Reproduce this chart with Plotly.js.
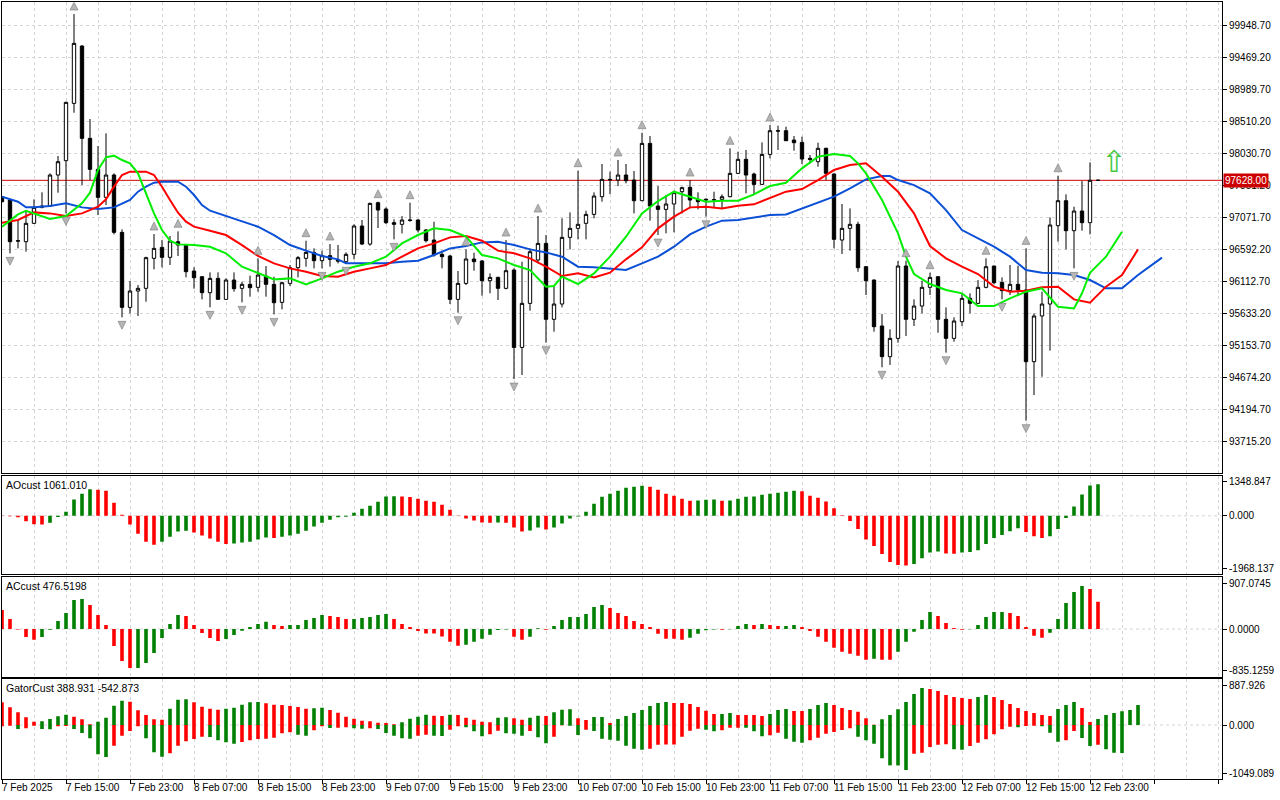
<!DOCTYPE html>
<html><head><meta charset="utf-8">
<script src="https://cdn.plot.ly/plotly-3.0.1.min.js"></script>
<style>html,body{margin:0;padding:0;background:#fff;}#chart{width:1280px;height:800px;}</style>
</head><body><div id="chart"></div>
<script>
// ---------- DATA ----------
const timeLabels = ["7 Feb 2025","7 Feb 15:00","7 Feb 23:00","8 Feb 07:00","8 Feb 15:00","8 Feb 23:00",
  "9 Feb 07:00","9 Feb 15:00","9 Feb 23:00","10 Feb 07:00","10 Feb 15:00","10 Feb 23:00",
  "11 Feb 07:00","11 Feb 15:00","11 Feb 23:00","12 Feb 07:00","12 Feb 15:00","12 Feb 23:00"];
const barsPerLabel = 8;

const open = [97383,97333,96724,96709,96984,97223,97243,97707,97922,98780,
99638,98256,97792,97373,97707,96849,95726,95971,96011,96460,
96624,96475,96709,96659,96270,96185,95946,96160,95846,96135,
96011,96071,96026,96195,96071,95801,96085,96320,96460,96549,
96425,96500,96435,96410,96520,96944,96674,97293,97198,96994,
96969,97034,97034,96884,96734,96520,96495,95846,96085,96450,
96420,96125,96175,96011,96285,95127,95786,96435,96684,95547,
95776,96774,96909,96984,97118,97383,97642,97632,97707,97632,
97323,98181,97243,97193,97273,97458,97523,97343,97333,97333,
97343,97383,97732,97942,97722,97567,98016,98371,98371,98231,
98196,97957,97907,98107,97722,96734,96909,96969,96335,96135,
95447,94988,95262,96345,95547,95746,96026,96185,95547,95262,
95512,95861,95786,96026,96345,96100,95976,96071,95986,94913,
95597,95776,96949,97323,96874,97168,96994,97628];
const high = [97393,97343,97034,97183,97343,97448,97732,97992,98805,100117,
99653,98546,98141,98331,97732,96894,96120,96060,96485,96824,
96734,96794,96864,96669,96325,96195,96250,96250,96160,96250,
96110,96200,96460,96345,96185,96110,96360,96495,96724,96609,
96575,96674,96659,96549,96969,97034,97293,97308,97223,97044,
97093,97293,97044,96899,97009,96575,96510,96270,96594,96544,
96435,96235,96185,96734,96310,96410,96609,97093,96809,96036,
97059,97148,97772,97173,97448,97872,97757,97932,97872,97767,
98341,98291,97542,97408,97473,97533,97632,97448,97358,97458,
97418,98107,98057,98082,97742,98196,98456,98446,98431,98291,
98281,98007,98191,98117,97732,97273,97208,97009,96345,96145,
95627,95397,96420,96425,95846,96125,96245,96195,95726,95577,
95926,95936,96135,96460,96350,96175,96360,96350,96609,95636,
95961,97073,97697,97418,97233,97617,97897,97640];
const low = [97298,96535,96609,96560,96974,97208,97233,97443,97133,98640,
97558,97632,97108,97258,96819,95577,95636,95597,95811,96295,
96325,96360,96495,96175,96006,95846,95726,95846,95846,95961,
95801,95886,95961,95886,95621,95696,96046,96175,96335,96310,
96310,96335,96385,96385,96445,96659,96649,96914,96974,96744,
96834,97009,96849,96699,96485,96310,95776,95646,96060,96275,
95901,95936,95836,95996,94653,94713,95676,96385,95197,95362,
95726,96594,96744,96744,97059,97308,97423,97542,97582,97133,
97318,97024,96809,96834,96849,97133,97208,97193,97083,97223,
97208,97373,97722,97433,97408,97557,97957,98082,98221,98072,
97872,97882,97832,97632,96609,96525,96575,96260,95911,95362,
94829,94864,95197,95297,95447,95636,95911,95347,95048,95212,
95447,95636,95776,96011,96075,95846,95911,95896,94030,94414,
94688,95078,96709,96594,96310,96874,96819,97620];
const close = [97308,96709,96719,96984,97223,97243,97707,97907,98795,99678,
98256,97792,97373,97707,96849,95726,95971,96011,96470,96609,
96475,96719,96659,96260,96170,95946,96160,95846,96135,96006,
96071,96021,96210,96071,95796,96095,96320,96470,96549,96425,
96500,96445,96420,96520,96944,96674,97283,97183,96994,96969,
97034,97029,96884,96724,96510,96485,95846,96085,96450,96410,
96125,96175,96011,96275,95127,95786,96559,96684,95547,95776,
96774,96909,96969,97118,97393,97642,97637,97707,97622,97323,
98181,97243,97193,97273,97443,97518,97333,97308,97343,97338,
97383,97732,97942,97707,97567,98016,98371,98366,98221,98191,
97947,97942,98107,97732,96744,96909,96969,96320,96125,95437,
94988,95262,96345,95547,95746,96026,96175,95547,95262,95522,
95861,95786,96026,96335,96095,95976,96071,95986,94913,95597,
95776,96959,97323,96874,97168,96994,97628,97628];
const currentPrice = 97628.00;

// Alligator (bar index, value)
const jawX = [0,2,3,4,6,8,10,12,14,16,17,18,19,20,22,23,24,25,26,28,30,32,34,36,38,40,42,43,46,48,50,52,54,56,58,60,62,64,66,68,70,72,74,76,78,80,82,84,86,88,90,92,94,96,98,100,102,104,106,108,110,111,112,114,116,118,120,122,124,126,128,130,132,134,136,138,140,142,144,145];
const jawY = [97383,97308,97223,97223,97243,97283,97223,97198,97223,97333,97458,97533,97592,97607,97607,97533,97408,97258,97173,97093,97024,96934,96809,96659,96575,96495,96445,96385,96385,96385,96410,96425,96510,96609,96644,96699,96709,96659,96594,96549,96485,96335,96325,96310,96285,96385,96485,96634,96819,96934,97024,97034,97074,97108,97118,97208,97298,97383,97508,97642,97692,97692,97632,97557,97433,97183,96884,96759,96634,96485,96285,96245,96235,96210,96135,96011,96011,96210,96385,96470];
const teethX = [0,2,4,6,8,10,12,13,14,15,16,18,19,20,21,22,23,24,26,28,30,32,34,36,38,40,42,44,46,48,50,52,54,56,58,60,62,64,66,68,70,72,74,76,78,80,82,84,86,88,90,92,94,96,98,100,102,104,106,108,110,112,114,116,118,120,122,124,126,128,130,132,134,136,138,140,142];
const teethY = [96994,97034,97148,97133,97093,97133,97233,97343,97533,97707,97757,97757,97707,97533,97333,97143,97009,96934,96874,96809,96659,96495,96385,96310,96260,96195,96185,96260,96310,96360,96485,96609,96684,96774,96794,96724,96575,96535,96460,96335,96195,96235,96175,96245,96445,96624,96909,97084,97223,97233,97208,97248,97268,97358,97458,97498,97632,97782,97857,97882,97682,97458,97133,96644,96460,96335,96225,96036,95961,95976,96026,96036,95846,95796,96036,96210,96594];
const lipsX = [0,2,3,4,6,8,10,11,12,13,14,15,16,17,18,19,20,21,22,24,26,28,30,32,34,36,38,40,42,44,46,48,50,52,54,56,58,60,62,64,66,68,69,70,72,74,76,78,80,82,84,86,88,90,92,94,96,98,100,102,104,106,107,108,110,112,113,114,116,118,120,122,124,126,128,130,132,134,135,136,138,140];
const lipsY = [96934,97118,97173,97133,97049,97093,97283,97443,97782,97972,97997,97932,97882,97732,97433,97133,96884,96724,96669,96659,96634,96535,96335,96245,96145,96160,96071,96160,96260,96335,96385,96485,96684,96809,96909,96884,96784,96510,96460,96360,96285,96036,96046,96185,96076,96235,96485,96784,97133,97318,97458,97383,97308,97323,97323,97418,97543,97592,97807,97982,98022,97992,97882,97732,97333,96834,96485,96225,96076,95986,95936,95746,95746,95861,95961,96011,95736,95711,95936,96245,96485,96859];

const upFractals = [9,19,22,32,38,41,47,51,58,63,67,72,77,80,86,91,96,113,116,123,128,132];
const downFractals = [1,8,15,26,30,34,40,43,49,57,64,68,82,88,110,118,125,128,134];
const signalBar = [139];
const signalPrice = [97870];

const ao = [-5,-17,-50,-185,-286,-297,-230,-39,140,544,
745,891,880,846,443,39,-297,-600,-869,-970,
-869,-701,-532,-499,-566,-667,-768,-869,-947,-936,
-902,-869,-801,-734,-745,-701,-667,-600,-499,-364,
-230,-129,-50,-28,106,241,342,476,645,656,
645,633,577,504,471,370,202,11,-90,-157,
-224,-235,-224,-236,-392,-527,-493,-392,-460,-392,
-258,-90,-22,135,404,639,740,841,942,975,
1009,975,874,740,673,572,504,516,538,549,
504,516,572,639,650,706,740,773,807,841,
829,673,605,482,258,22,-179,-448,-796,-1020,
-1289,-1558,-1659,-1670,-1625,-1424,-1233,-1199,-1267,-1278,
-1233,-1222,-1155,-953,-751,-650,-516,-415,-549,-684,
-751,-684,-448,-78,314,717,1020,1061.010];
const ac = [333,175,-6,-140,-187,-140,-12,140,280,508,
526,421,245,70,-298,-561,-684,-683,-596,-421,
-158,88,245,228,70,-70,-158,-210,-175,-105,
-29,35,88,129,70,53,70,72,158,193,
245,228,210,175,176,193,210,245,263,175,
88,35,-35,-76,-78,-129,-222,-292,-275,-222,
-169,-99,-18,-6,-134,-187,-134,12,-12,53,
158,210,212,263,386,421,368,280,228,140,
88,35,-82,-169,-171,-187,-152,-82,-23,-6,
-12,-5,53,88,70,88,70,53,55,70,
35,-35,-134,-222,-327,-397,-432,-467,-538,-520,
-538,-540,-397,-222,-47,158,298,228,105,18,
-12,-5,70,210,298,300,280,228,35,-117,
-152,-64,175,456,649,754,701,476.5198];
const gatorUp = [441,343,246,149,65,71,117,168,201,162,
110,13,65,143,376,473,454,285,194,110,
104,318,492,499,441,356,318,298,318,337,
395,441,447,421,395,389,369,350,318,324,
337,292,240,162,123,84,71,45,39,13,
52,123,162,201,181,175,201,194,143,104,
65,52,143,149,130,104,143,181,175,246,
298,305,130,97,156,157,39,117,175,233,
292,369,428,447,428,427,408,350,279,214,
215,233,194,193,192,175,214,292,311,272,
271,311,389,428,389,330,292,259,130,6,
110,194,305,447,603,719,700,661,583,544,
525,505,544,583,544,486,408,330,272,233,
194,175,311,389,447,330,58,117,194,233,
266,292,388.931];
const gatorDown = [-26,-13,-78,-65,-13,-78,-84,-26,-19,-78,
-156,-259,-570,-622,-402,-207,-117,-26,-259,-531,
-616,-551,-402,-318,-272,-227,-233,-298,-337,-363,
-330,-298,-272,-266,-246,-162,-143,-188,-207,-104,
-26,-58,-52,-45,-65,-71,-65,-78,-156,-207,
-259,-266,-207,-188,-207,-214,-91,-26,-45,-123,
-220,-181,-110,-162,-168,-207,-117,-240,-356,-227,
-6,-13,-194,-91,-117,-266,-285,-305,-402,-460,
-480,-460,-382,-381,-380,-227,-110,-71,-91,-123,
-104,-52,-51,-52,-123,-220,-201,-149,-266,-324,
-343,-298,-246,-168,-136,-97,-65,-227,-298,-363,
-648,-784,-785,-875,-557,-538,-428,-382,-376,-473,
-479,-408,-344,-279,-181,-84,-32,-45,-19,-13,
-26,-149,-324,-298,-117,-253,-408,-382,-473,-538,
-542.873];

// axis scales
const mainTicks = [99948.70,99469.20,98989.70,98510.20,98030.70,97551.20,97071.70,96592.20,96112.70,95633.20,95153.70,94674.20,94194.70,93715.20];
const mainRange = [93242, 100293];
const aoRange = [-1968.137, 1348.847];
const acRange = [-835.1259, 907.0745];
const gatorRange = [-1049.089, 887.926];

// ---------- LAYOUT CONSTANTS ----------
const W = 1280, H = 800, ML = 2, MR = 58, MT = 2, MB = 21;
const plotH = H - MT - MB;
function dom(topPx, botPx){ return [1 - (botPx - MT)/plotH, 1 - (topPx - MT)/plotH]; }
const dMain = dom(2.3, 473.3), dAO = dom(475.7, 574.3), dAC = dom(577.3, 676.7), dGat = dom(679.3, 779);
const xRange = [0, 152.5];
const FONT = 'Liberation Sans, Arial, sans-serif';
const GRID = '#d4d4d4', DASH = '3px,3px';
const GREEN = '#008000', RED = '#ff0000';

const idx = a => a.map((_, i) => i);
function dirColors(vals, useAbs){
  return vals.map((v, i) => {
    if (i === 0) return RED;
    const a = useAbs ? Math.abs(v) : v, b = useAbs ? Math.abs(vals[i-1]) : vals[i-1];
    return a > b ? GREEN : RED;
  });
}
const ppx = (mainRange[1] - mainRange[0]) / ((dMain[1]-dMain[0]) * plotH);

const traces = [];
traces.push({type:'candlestick', x: idx(open), open, high, low, close, xaxis:'x', yaxis:'y',
  increasing:{fillcolor:'#ffffff', line:{color:'#000000', width:1}},
  decreasing:{fillcolor:'#000000', line:{color:'#000000', width:1}},
  whiskerwidth:0, hoverinfo:'skip', showlegend:false});
traces.push({type:'scatter', mode:'lines', x: jawX, y: jawY, xaxis:'x', yaxis:'y', line:{color:'#0a4fd6', width:2}, hoverinfo:'skip'});
traces.push({type:'scatter', mode:'lines', x: teethX, y: teethY, xaxis:'x', yaxis:'y', line:{color:'#ff0000', width:2}, hoverinfo:'skip'});
traces.push({type:'scatter', mode:'lines', x: lipsX, y: lipsY, xaxis:'x', yaxis:'y', line:{color:'#00ee00', width:2}, hoverinfo:'skip'});
traces.push({type:'scatter', mode:'markers', x: upFractals, y: upFractals.map(i => high[i] + 12*ppx), xaxis:'x', yaxis:'y',
  marker:{symbol:'arrow-up', size:8, color:'#b4b4b4', line:{color:'#7c7c7c', width:0.6}}, hoverinfo:'skip'});
traces.push({type:'scatter', mode:'markers', x: downFractals, y: downFractals.map(i => low[i] - 12*ppx), xaxis:'x', yaxis:'y',
  marker:{symbol:'arrow-down', size:8, color:'#b4b4b4', line:{color:'#7c7c7c', width:0.6}}, hoverinfo:'skip'});
traces.push({type:'scatter', mode:'text', x: signalBar, y: signalPrice, text: signalBar.map(() => '⇧'), xaxis:'x', yaxis:'y',
  textfont:{family:'DejaVu Sans', size:30, color:'#44c844'}, hoverinfo:'skip'});

traces.push({type:'bar', x: idx(ao), y: ao, xaxis:'x2', yaxis:'y2', width:0.45, marker:{color: dirColors(ao,false), line:{width:0}}, hoverinfo:'skip'});
traces.push({type:'bar', x: idx(ac), y: ac, xaxis:'x3', yaxis:'y3', width:0.45, marker:{color: dirColors(ac,false), line:{width:0}}, hoverinfo:'skip'});
traces.push({type:'bar', x: idx(gatorUp), y: gatorUp, xaxis:'x4', yaxis:'y4', width:0.45, marker:{color: dirColors(gatorUp,true), line:{width:0}}, hoverinfo:'skip'});
traces.push({type:'bar', x: idx(gatorDown), y: gatorDown, xaxis:'x4', yaxis:'y4', width:0.45, marker:{color: dirColors(gatorDown,true), line:{width:0}}, hoverinfo:'skip'});

function xAxis(anchor, bottom){
  const ax = {domain:[0,1], range:xRange, anchor, showline:true, mirror:true, linecolor:'#000', linewidth:1,
    zeroline:false, showgrid:true, gridcolor:GRID, griddash:DASH, gridwidth:1, fixedrange:true,
    tickmode:'linear', tick0:0, dtick:4, ticks:'', showticklabels:false, rangeslider:{visible:false}};
  if (bottom){
    ax.dtick = barsPerLabel; ax.ticks = 'outside'; ax.ticklen = 4; ax.tickcolor = '#000';
    ax.minor = {tick0:0, dtick:4, showgrid:true, gridcolor:GRID, griddash:DASH, ticks:''};
  }
  return ax;
}
function insetTicks(range, domain, fmt){
  const per = (range[1]-range[0]) / ((domain[1]-domain[0]) * plotH);
  return {tickvals:[range[1] - 6*per, 0, range[0] + 6*per], ticktext:[range[1].toFixed(fmt), (0).toFixed(fmt), range[0].toFixed(fmt)]};
}
function yAxis(anchor, domain, range, extra){
  return Object.assign({domain, range, anchor, side:'right', showline:true, mirror:true, linecolor:'#000', linewidth:1,
    zeroline:false, showgrid:false, ticks:'outside', ticklen:4, tickcolor:'#000', fixedrange:true,
    tickfont:{family:FONT, size:10, color:'#000'}, tickmode:'array'}, extra);
}
const aoT = insetTicks(aoRange, dAO, 3), acT = insetTicks(acRange, dAC, 4), gT = insetTicks(gatorRange, dGat, 3);

const shapes = [
  {type:'line', xref:'x domain', yref:'y', x0:0, x1:1, y0:currentPrice, y1:currentPrice, line:{color:'#cc0000', width:1}, layer:'below'},
  {type:'line', xref:'x2 domain', yref:'y2', x0:0, x1:1, y0:0, y1:0, line:{color:GRID, width:1, dash:DASH}, layer:'below'},
  {type:'line', xref:'x3 domain', yref:'y3', x0:0, x1:1, y0:0, y1:0, line:{color:GRID, width:1, dash:DASH}, layer:'below'},
  {type:'line', xref:'x4 domain', yref:'y4', x0:0, x1:1, y0:0, y1:0, line:{color:GRID, width:1, dash:DASH}, layer:'below'}
];

const annotations = [];
timeLabels.forEach((t, k) => annotations.push({xref:'x4', yref:'paper', x:k*barsPerLabel, y:0, xanchor:'left', yanchor:'top',
  xshift:-2, yshift:-1, text:t, showarrow:false, font:{family:FONT, size:10, color:'#000'}}));
annotations.push({xref:'paper', yref:'y', x:1, y:currentPrice, xanchor:'left', yanchor:'middle', xshift:1,
  text:currentPrice.toFixed(2), showarrow:false, bgcolor:'#cc0000', borderpad:1, font:{family:FONT, size:10, color:'#fff'}});
function panelTitle(domain, text){
  return {xref:'paper', yref:'paper', x:0, y:domain[1], xanchor:'left', yanchor:'top', xshift:2, yshift:-1,
    text, showarrow:false, font:{family:FONT, size:10.5, color:'#000'}};
}
annotations.push(panelTitle(dAO, 'AOcust ' + ao[ao.length-1].toFixed(3)));
annotations.push(panelTitle(dAC, 'ACcust ' + ac[ac.length-1].toFixed(4)));
annotations.push(panelTitle(dGat, 'GatorCust ' + gatorUp[gatorUp.length-1].toFixed(3) + ' ' + gatorDown[gatorDown.length-1].toFixed(3)));

const layout = {
  width:W, height:H, margin:{l:ML, r:MR, t:MT, b:MB, pad:0},
  paper_bgcolor:'#fff', plot_bgcolor:'#fff', showlegend:false, hovermode:false,
  barmode:'overlay', boxgap:0.4,
  font:{family:FONT, size:10, color:'#000'},
  xaxis: xAxis('y', false), xaxis2: xAxis('y2', false), xaxis3: xAxis('y3', false), xaxis4: xAxis('y4', true),
  yaxis: yAxis('x', dMain, mainRange, {tickvals: mainTicks, ticktext: mainTicks.map(v => v.toFixed(2)), showgrid:true, gridcolor:GRID, griddash:DASH}),
  yaxis2: yAxis('x2', dAO, aoRange, aoT),
  yaxis3: yAxis('x3', dAC, acRange, acT),
  yaxis4: yAxis('x4', dGat, gatorRange, gT),
  shapes, annotations
};
Plotly.newPlot('chart', traces, layout, {displayModeBar:false, staticPlot:true});
</script></body></html>
